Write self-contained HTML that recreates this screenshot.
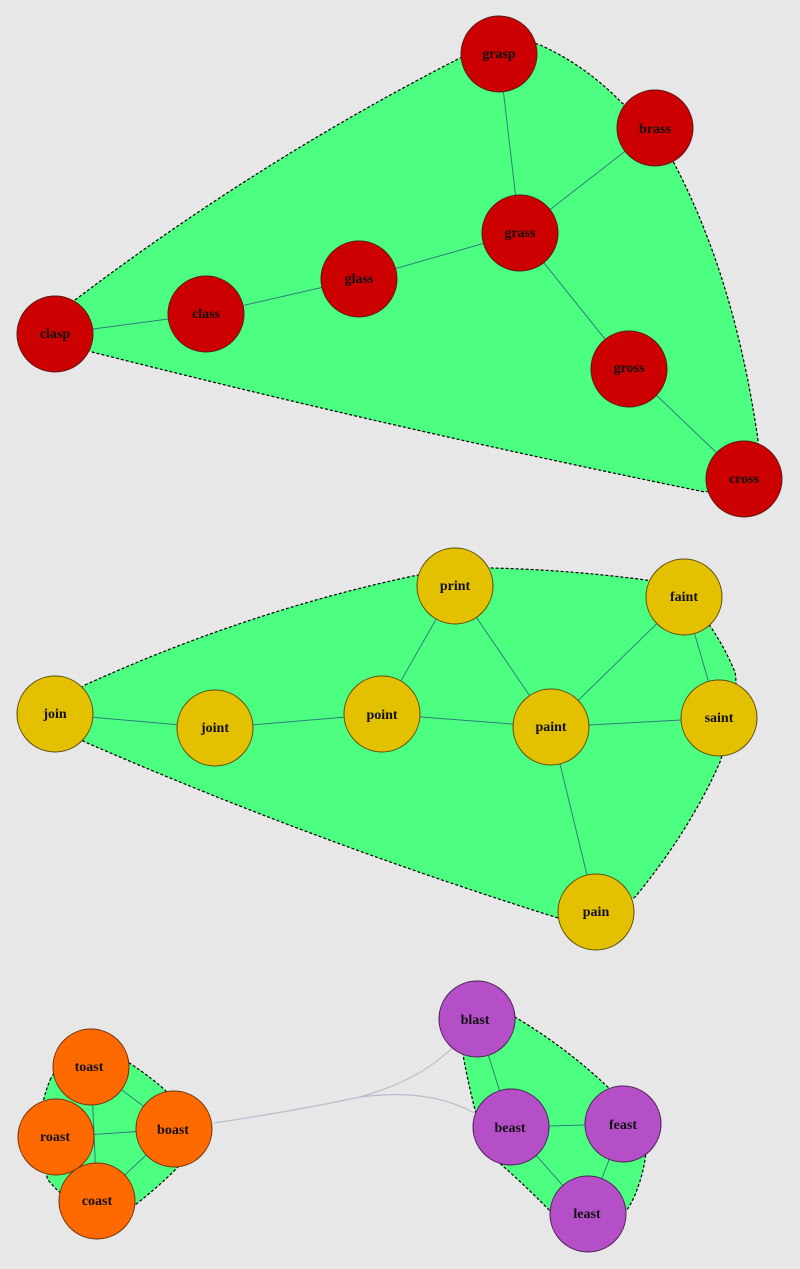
<!DOCTYPE html>
<html><head><style>
html,body{margin:0;padding:0;background:#e7e7e7;}
svg{display:block}
text{font-family:"Liberation Serif",serif;font-weight:bold;font-size:14px;text-anchor:middle;fill:#111;}
.h{fill:#4dff80;stroke:#000;stroke-width:1.2;stroke-dasharray:3,2}
.e{stroke:#2f7f7a;stroke-width:1;fill:none}
.r{fill:#cc0000;stroke:#5a1a1a;stroke-width:1}
.y{fill:#e3c000;stroke:#5a4a10;stroke-width:1}
.o{fill:#ff6a00;stroke:#6a3010;stroke-width:1}
.p{fill:#b44fc8;stroke:#4a2050;stroke-width:1}
</style></head><body>
<svg width="800" height="1269" viewBox="0 0 800 1269" xmlns="http://www.w3.org/2000/svg">
<!-- red hull -->
<path class="h" d="M75,300 Q260,160 462,57 Q500,30 540,45 Q585,65 622,103 Q650,120 675,165 Q735,280 758,440 Q760,480 705,492 Q400,430 92,352 Q60,340 75,300 Z"/>
<!-- yellow hull -->
<path class="h" d="M85,685 Q250,610 418,575 Q455,563 492,568 Q570,570 646,580 Q700,590 735,672 Q740,700 720,762 Q690,830 636,896 Q600,930 558,918 Q310,840 85,742 Q40,715 85,685 Z"/>
<!-- orange hull -->
<path class="h" d="M50,1080 Q70,1040 128,1062 Q155,1080 168,1093 Q210,1120 200,1140 Q180,1170 135,1205 Q90,1230 48,1180 Q30,1130 50,1080 Z"/>
<!-- purple hull -->
<path class="h" d="M463,1055 Q480,1000 515,1017 Q570,1050 613,1092 Q665,1120 635,1195 Q620,1230 590,1230 Q560,1230 552,1213 Q520,1180 490,1155 Q475,1120 463,1055 Z"/>
<!-- grey edges -->
<path d="M214,1123 Q300,1110 360,1097 Q420,1080 452,1048" stroke="#b8bccc" stroke-width="1.2" fill="none"/>
<path d="M360,1097 Q430,1088 474,1113" stroke="#b8bccc" stroke-width="1.2" fill="none"/>
<!-- red edges -->
<g class="e">
<line x1="499" y1="54" x2="520" y2="233"/><line x1="655" y1="128" x2="520" y2="233"/>
<line x1="520" y1="233" x2="359" y2="279"/><line x1="359" y1="279" x2="206" y2="314"/>
<line x1="206" y1="314" x2="55" y2="334"/><line x1="520" y1="233" x2="629" y2="369"/>
<line x1="629" y1="369" x2="744" y2="479"/>
<!-- yellow -->
<line x1="55" y1="714" x2="215" y2="728"/><line x1="215" y1="728" x2="382" y2="714"/>
<line x1="382" y1="714" x2="551" y2="727"/><line x1="382" y1="714" x2="455" y2="586"/>
<line x1="455" y1="586" x2="551" y2="727"/><line x1="551" y1="727" x2="684" y2="597"/>
<line x1="551" y1="727" x2="719" y2="718"/><line x1="684" y1="597" x2="719" y2="718"/>
<line x1="551" y1="727" x2="596" y2="912"/>
<!-- orange -->
<line x1="91" y1="1067" x2="97" y2="1201"/><line x1="91" y1="1067" x2="174" y2="1129"/>
<line x1="56" y1="1137" x2="174" y2="1129"/><line x1="174" y1="1129" x2="97" y2="1201"/>
<!-- purple -->
<line x1="477" y1="1019" x2="511" y2="1127"/><line x1="511" y1="1127" x2="623" y2="1124"/>
<line x1="511" y1="1127" x2="588" y2="1214"/><line x1="623" y1="1124" x2="588" y2="1214"/>
</g>
<!-- nodes -->
<g class="r">
<circle cx="499" cy="54" r="38"/><circle cx="655" cy="128" r="38"/><circle cx="520" cy="233" r="38"/>
<circle cx="359" cy="279" r="38"/><circle cx="206" cy="314" r="38"/><circle cx="55" cy="334" r="38"/>
<circle cx="629" cy="369" r="38"/><circle cx="744" cy="479" r="38"/>
</g>
<g class="y">
<circle cx="455" cy="586" r="38"/><circle cx="684" cy="597" r="38"/><circle cx="55" cy="714" r="38"/>
<circle cx="215" cy="728" r="38"/><circle cx="382" cy="714" r="38"/><circle cx="551" cy="727" r="38"/>
<circle cx="719" cy="718" r="38"/><circle cx="596" cy="912" r="38"/>
</g>
<g class="o">
<circle cx="91" cy="1067" r="38"/><circle cx="174" cy="1129" r="38"/>
<circle cx="56" cy="1137" r="38"/><circle cx="97" cy="1201" r="38"/>
</g>
<g class="p">
<circle cx="477" cy="1019" r="38"/><circle cx="511" cy="1127" r="38"/>
<circle cx="623" cy="1124" r="38"/><circle cx="588" cy="1214" r="38"/>
</g>
<g>
<text x="499" y="58">grasp</text><text x="655" y="133">brass</text><text x="520" y="237">grass</text>
<text x="359" y="283">glass</text><text x="206" y="318">class</text><text x="55" y="338">clasp</text>
<text x="629" y="372">gross</text><text x="744" y="483">cross</text>
<text x="455" y="590">print</text><text x="684" y="601">faint</text><text x="55" y="718">join</text>
<text x="215" y="732">joint</text><text x="382" y="719">point</text><text x="551" y="731">paint</text>
<text x="719" y="722">saint</text><text x="596" y="916">pain</text>
<text x="89" y="1071">toast</text><text x="173" y="1134">boast</text>
<text x="55" y="1141">roast</text><text x="97" y="1205">coast</text>
<text x="475" y="1024">blast</text><text x="510" y="1132">beast</text>
<text x="623" y="1129">feast</text><text x="587" y="1218">least</text>
</g>
</svg>
</body></html>
